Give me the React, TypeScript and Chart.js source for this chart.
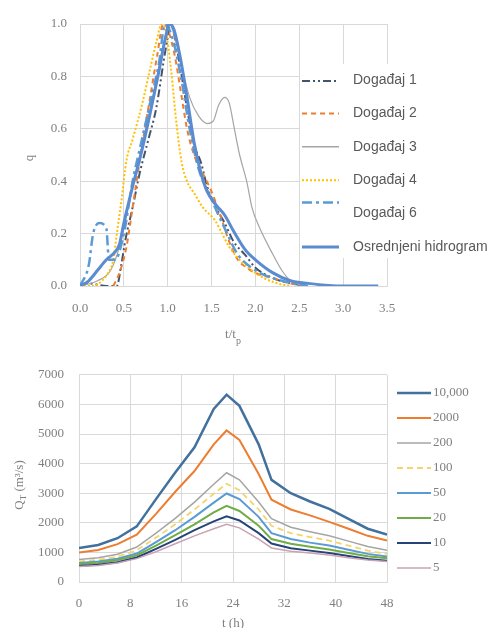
import React, { useEffect, useRef } from "react";
import { Chart, registerables } from "chart.js";
Chart.register(...registerables);

// ---------- Top chart data (t/tp vs q) ----------
const dog1T = [0, 0.1, 0.3, 0.42, 0.47, 0.52, 0.6, 0.68, 0.78, 0.87, 0.95, 1.0, 1.03, 1.08, 1.15, 1.22, 1.3, 1.38, 1.45, 1.55, 1.65, 1.75, 1.88, 2.0, 2.2, 2.4, 2.6];
const dog1Q = [0, 0.01, 0, 0, 0.08, 0.18, 0.3, 0.43, 0.56, 0.68, 0.85, 0.95, 1.0, 0.95, 0.82, 0.68, 0.54, 0.47, 0.38, 0.3, 0.24, 0.17, 0.12, 0.07, 0.03, 0.01, 0];

const dog2T = [0.38, 0.45, 0.53, 0.6, 0.7, 0.8, 0.88, 0.95, 1.0, 1.08, 1.15, 1.22, 1.3, 1.4, 1.5, 1.6, 1.7, 1.8, 1.9, 2.0, 2.2, 2.4, 2.6];
const dog2Q = [0, 0.05, 0.15, 0.3, 0.52, 0.72, 0.88, 1.0, 0.98, 0.88, 0.74, 0.6, 0.5, 0.43, 0.36, 0.27, 0.17, 0.1, 0.07, 0.05, 0.03, 0.01, 0];

const dog3T = [0, 0.2, 0.35, 0.45, 0.55, 0.65, 0.75, 0.85, 0.95, 1.02, 1.08, 1.15, 1.25, 1.35, 1.45, 1.52, 1.58, 1.65, 1.7, 1.76, 1.82, 1.9, 1.96, 2.05, 2.2, 2.3, 2.4, 2.55];
const dog3Q = [0, 0.02, 0.06, 0.15, 0.3, 0.45, 0.6, 0.75, 0.92, 1.0, 0.95, 0.85, 0.72, 0.65, 0.62, 0.63, 0.69, 0.72, 0.7, 0.6, 0.5, 0.4, 0.3, 0.22, 0.12, 0.06, 0.02, 0];

const dog4T = [0, 0.15, 0.25, 0.32, 0.38, 0.42, 0.47, 0.53, 0.6, 0.72, 0.8, 0.87, 0.93, 0.98, 1.04, 1.1, 1.16, 1.22, 1.31, 1.4, 1.54, 1.62, 1.7, 1.85, 2.0, 2.1, 2.25, 2.4];
const dog4Q = [0, 0, 0.02, 0.05, 0.1, 0.2, 0.32, 0.48, 0.56, 0.71, 0.83, 0.93, 1.0, 0.97, 0.82, 0.62, 0.47, 0.4, 0.35, 0.3, 0.25, 0.2, 0.15, 0.09, 0.05, 0.03, 0.01, 0];

const dog6T = [0, 0.1, 0.15, 0.22, 0.3, 0.33, 0.4, 0.5, 0.6, 0.7, 0.8, 0.9, 0.97, 1.05, 1.15, 1.25, 1.35, 1.5, 1.65, 1.8, 2.0, 2.3, 2.6];
const dog6Q = [0, 0.08, 0.2, 0.24, 0.22, 0.1, 0.1, 0.2, 0.4, 0.55, 0.7, 0.85, 1.0, 0.95, 0.8, 0.6, 0.45, 0.33, 0.22, 0.12, 0.06, 0.02, 0];

const avgT = [0, 0.1, 0.2, 0.3, 0.4, 0.45, 0.5, 0.6, 0.7, 0.8, 0.9, 0.97, 1.02, 1.07, 1.15, 1.22, 1.3, 1.38, 1.45, 1.55, 1.65, 1.75, 1.88, 2.0, 2.2, 2.4, 2.6, 3.0, 3.4];
const avgQ = [0, 0.02, 0.06, 0.1, 0.13, 0.16, 0.24, 0.38, 0.51, 0.66, 0.82, 0.94, 1.0, 0.98, 0.86, 0.72, 0.55, 0.43, 0.36, 0.31, 0.27, 0.21, 0.14, 0.1, 0.05, 0.02, 0.01, 0, 0];

const topLabels = ["Događaj 1", "Događaj 2", "Događaj 3", "Događaj 4", "Događaj 6", "Osrednjeni hidrogram"];

// ---------- Bottom chart data (t [h] vs Q_T) ----------
const hours = [0, 3, 6, 9, 12, 15, 18, 21, 23, 25, 28, 30, 33, 36, 39, 42, 45, 48];
const q10000 = [1150, 1250, 1480, 1880, 2800, 3700, 4550, 5850, 6330, 5950, 4650, 3450, 3000, 2720, 2470, 2130, 1800, 1600];
const q2000 = [1000, 1080, 1280, 1600, 2300, 3050, 3750, 4650, 5120, 4800, 3650, 2780, 2450, 2250, 2030, 1800, 1560, 1400];
const q200 = [760, 820, 940, 1180, 1650, 2150, 2700, 3300, 3690, 3450, 2700, 2140, 1850, 1700, 1560, 1380, 1200, 1070];
const q100 = [700, 750, 860, 1070, 1500, 1950, 2450, 2980, 3320, 3100, 2450, 1900, 1650, 1520, 1400, 1230, 1060, 950];
const q50 = [640, 690, 790, 960, 1350, 1750, 2200, 2680, 2990, 2800, 2200, 1650, 1450, 1330, 1230, 1090, 950, 860];
const q20 = [600, 640, 740, 900, 1230, 1580, 1950, 2350, 2570, 2400, 1900, 1450, 1290, 1190, 1100, 980, 870, 800];
const q10 = [540, 580, 670, 830, 1120, 1420, 1750, 2050, 2220, 2080, 1650, 1300, 1140, 1060, 980, 880, 780, 720];
const q5 = [520, 560, 640, 790, 1020, 1290, 1560, 1800, 1950, 1830, 1450, 1150, 1040, 980, 910, 820, 740, 690];
const bottomLabels = ["10,000", "2000", "200", "100", "50", "20", "10", "5"];

const SERIF = '"Liberation Serif", "Times New Roman", serif';
const SANS = '"Liberation Sans", Arial, sans-serif';
const GRID = "#d9d9d9";
const TICK = "#808080";

function pts(xs: number[], ys: number[]) {
  return xs.map((x, i) => ({ x, y: ys[i] }));
}

function legendPlugin(id: string, cfg: any) {
  return {
    id,
    afterDraw(chart: any) {
      const ctx = chart.ctx;
      ctx.save();
      if (cfg.bg) {
        ctx.fillStyle = "#ffffff";
        ctx.fillRect(cfg.bg[0], cfg.bg[1], cfg.bg[2], cfg.bg[3]);
      }
      chart.data.datasets.forEach((ds: any, i: number) => {
        const ty = cfg.y0 + i * cfg.dy;
        const ly = ty + (cfg.lineOffsets ? cfg.lineOffsets[i] : 0);
        ctx.strokeStyle = ds.borderColor;
        ctx.lineWidth = Math.max(ds.borderWidth, 1.5);
        ctx.setLineDash(ds.borderDash || []);
        ctx.lineCap = "butt";
        ctx.beginPath();
        ctx.moveTo(cfg.x0, ly);
        ctx.lineTo(cfg.x1, ly);
        ctx.stroke();
        ctx.setLineDash([]);
        ctx.fillStyle = cfg.color;
        ctx.font = cfg.font;
        ctx.textBaseline = "middle";
        ctx.textAlign = "left";
        ctx.fillText(ds.label, cfg.tx, ty);
      });
      ctx.restore();
    },
  };
}

function titlePlugin(id: string, draw: (ctx: CanvasRenderingContext2D) => void) {
  return {
    id,
    afterDraw(chart: any) {
      const ctx = chart.ctx;
      ctx.save();
      draw(ctx);
      ctx.restore();
    },
  };
}

export default function App() {
  const topRef = useRef<HTMLCanvasElement>(null);
  const botRef = useRef<HTMLCanvasElement>(null);

  useEffect(() => {
    const tickFont = { family: SERIF, size: 13 };

    const topChart = new Chart(topRef.current as HTMLCanvasElement, {
      type: "line",
      data: {
        datasets: [
          { label: topLabels[0], data: pts(dog1T, dog1Q), borderColor: "#44546A", borderWidth: 2, borderDash: [8, 3, 2, 3, 2, 3], order: 5 },
          { label: topLabels[1], data: pts(dog2T, dog2Q), borderColor: "#ED7D31", borderWidth: 2, borderDash: [5, 4], order: 4 },
          { label: topLabels[2], data: pts(dog3T, dog3Q), borderColor: "#A5A5A5", borderWidth: 1.2, order: 3 },
          { label: topLabels[3], data: pts(dog4T, dog4Q), borderColor: "#FFC000", borderWidth: 2, borderDash: [2, 2], order: 2 },
          { label: topLabels[4], data: pts(dog6T, dog6Q), borderColor: "#5B9BD5", borderWidth: 2.5, borderDash: [10, 4, 3, 4], order: 1 },
          { label: topLabels[5], data: pts(avgT, avgQ), borderColor: "#5B8BD0", borderWidth: 3, order: 0 },
        ],
      } as any,
      options: {
        responsive: false,
        animation: false,
        layout: { padding: { left: 0, right: 105, top: 24, bottom: 0 } },
        elements: { point: { radius: 0 }, line: { cubicInterpolationMode: "monotone", fill: false } },
        plugins: { legend: { display: false }, tooltip: { enabled: false } },
        scales: {
          x: {
            type: "linear",
            min: 0,
            max: 3.5,
            ticks: { stepSize: 0.5, callback: (v: any) => Number(v).toFixed(1), font: tickFont, color: TICK, padding: 15, maxRotation: 0 },
            grid: { color: GRID, drawTicks: false },
            border: { color: GRID },
            afterFit: (s: any) => { s.height = 66; },
          },
          y: {
            min: 0,
            max: 1,
            ticks: { stepSize: 0.2, callback: (v: any) => Number(v).toFixed(1), font: tickFont, color: TICK, padding: 13 },
            grid: { color: GRID, drawTicks: false },
            border: { color: GRID },
            afterFit: (s: any) => { s.width = 80; },
          },
        },
      } as any,
      plugins: [
        legendPlugin("topLegend", {
          bg: [300, 64, 192, 194],
          x0: 302, x1: 339, tx: 353, y0: 80, dy: 33.4,
          lineOffsets: [1, 0, 0, 0, -11, 0],
          font: `14px ${SANS}`, color: "#595959",
        }),
        titlePlugin("topTitles", (ctx) => {
          ctx.fillStyle = TICK;
          ctx.font = `13px ${SERIF}`;
          ctx.textBaseline = "middle";
          const main = "t/t";
          const w = ctx.measureText(main).width;
          ctx.font = `10px ${SERIF}`;
          const ws = ctx.measureText("p").width;
          const x = 233 - (w + ws) / 2;
          ctx.font = `13px ${SERIF}`;
          ctx.textAlign = "left";
          ctx.fillText(main, x, 335);
          ctx.font = `10px ${SERIF}`;
          ctx.fillText("p", x + w, 341);
          ctx.font = `13px ${SERIF}`;
          ctx.translate(30, 158);
          ctx.rotate(-Math.PI / 2);
          ctx.textAlign = "center";
          ctx.fillText("q", 0, 0);
        }),
      ],
    });

    const botChart = new Chart(botRef.current as HTMLCanvasElement, {
      type: "line",
      data: {
        datasets: [
          { label: bottomLabels[0], data: pts(hours, q10000), borderColor: "#41719C", borderWidth: 2.5, order: 7 },
          { label: bottomLabels[1], data: pts(hours, q2000), borderColor: "#ED7D31", borderWidth: 2, order: 6 },
          { label: bottomLabels[2], data: pts(hours, q200), borderColor: "#A5A5A5", borderWidth: 1.5, order: 5 },
          { label: bottomLabels[3], data: pts(hours, q100), borderColor: "#F2D56B", borderWidth: 1.8, borderDash: [6, 4], order: 4 },
          { label: bottomLabels[4], data: pts(hours, q50), borderColor: "#5B9BD5", borderWidth: 2, order: 3 },
          { label: bottomLabels[5], data: pts(hours, q20), borderColor: "#70AD47", borderWidth: 2, order: 2 },
          { label: bottomLabels[6], data: pts(hours, q10), borderColor: "#264478", borderWidth: 2, order: 1 },
          { label: bottomLabels[7], data: pts(hours, q5), borderColor: "#C9A3B3", borderWidth: 1.5, order: 0 },
        ],
      } as any,
      options: {
        responsive: false,
        animation: false,
        layout: { padding: { left: 0, right: 105, top: 11, bottom: 0 } },
        elements: { point: { radius: 0 }, line: { tension: 0, fill: false } },
        plugins: { legend: { display: false }, tooltip: { enabled: false } },
        scales: {
          x: {
            type: "linear",
            min: 0,
            max: 48,
            ticks: { stepSize: 8, font: tickFont, color: TICK, padding: 14, maxRotation: 0 },
            grid: { color: GRID, drawTicks: false },
            border: { color: GRID },
            afterFit: (s: any) => { s.height = 46; },
          },
          y: {
            min: 0,
            max: 7000,
            ticks: { stepSize: 1000, callback: (v: any) => String(v), font: tickFont, color: TICK, padding: 15 },
            grid: { color: GRID, drawTicks: false },
            border: { color: GRID },
            afterFit: (s: any) => { s.width = 79; },
          },
        },
      } as any,
      plugins: [
        legendPlugin("botLegend", {
          x0: 397, x1: 431, tx: 433, y0: 41, dy: 25,
          font: `13px ${SERIF}`, color: TICK,
        }),
        titlePlugin("botTitles", (ctx) => {
          ctx.fillStyle = TICK;
          ctx.textBaseline = "middle";
          ctx.font = `13px ${SERIF}`;
          ctx.textAlign = "center";
          ctx.fillText("t (h)", 233, 272);
          ctx.translate(20, 133);
          ctx.rotate(-Math.PI / 2);
          const a = "Q";
          const b = "T";
          const c = " (m³/s)";
          ctx.font = `13px ${SERIF}`;
          const wa = ctx.measureText(a).width;
          const wc = ctx.measureText(c).width;
          ctx.font = `9px ${SERIF}`;
          const wb = ctx.measureText(b).width;
          let x = -(wa + wb + wc) / 2;
          ctx.textAlign = "left";
          ctx.font = `13px ${SERIF}`;
          ctx.fillText(a, x, 0);
          x += wa;
          ctx.font = `9px ${SERIF}`;
          ctx.fillText(b, x, 4);
          x += wb;
          ctx.font = `13px ${SERIF}`;
          ctx.fillText(c, x, 0);
        }),
      ],
    });

    return () => {
      topChart.destroy();
      botChart.destroy();
    };
  }, []);

  return (
    <div style={{ position: "absolute", left: 0, top: 0, width: 492, height: 628, background: "#fff" }}>
      <canvas ref={topRef} width={492} height={352} style={{ display: "block", position: "absolute", left: 0, top: 0 }} />
      <canvas ref={botRef} width={492} height={276} style={{ display: "block", position: "absolute", left: 0, top: 352 }} />
    </div>
  );
}
